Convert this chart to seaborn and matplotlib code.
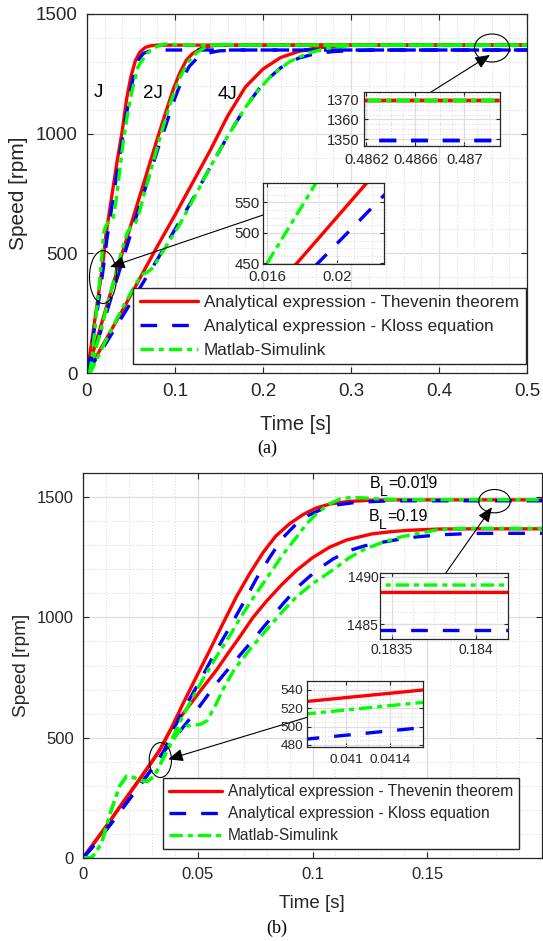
import matplotlib
matplotlib.use("Agg")
import matplotlib.pyplot as plt
import seaborn as sns
import numpy as np
from matplotlib.lines import Line2D
from matplotlib.patches import Ellipse
from matplotlib.ticker import FixedLocator, MultipleLocator, FuncFormatter, AutoMinorLocator

# ------------------------------------------------------------------ data (a)
aJ_t_red = [0, 0.004, 0.008, 0.012, 0.0177, 0.0217, 0.028, 0.034, 0.040, 0.045, 0.050, 0.055, 0.060, 0.066, 0.072, 0.080, 0.09, 0.5]
aJ_v_red = [0, 95, 200, 300, 450, 582, 735, 880, 1010, 1145, 1240, 1305, 1340, 1360, 1367, 1370, 1370, 1370]
aJ_t_blue = [0, 0.004, 0.008, 0.012, 0.016, 0.0189, 0.0227, 0.028, 0.033, 0.038, 0.044, 0.049, 0.054, 0.059, 0.064, 0.070, 0.078, 0.09, 0.5]
aJ_v_blue = [0, 80, 175, 270, 370, 450, 562, 690, 810, 925, 1065, 1170, 1260, 1312, 1335, 1344, 1348, 1349.5, 1349.5]
aJ_t_green = [0, 0.003, 0.006, 0.009, 0.012, 0.016, 0.0188, 0.021, 0.024, 0.027, 0.030, 0.033, 0.037, 0.041, 0.046, 0.051, 0.058, 0.068, 0.078, 0.088, 0.10, 0.12, 0.5]
aJ_v_green = [0, 5, 70, 190, 300, 450, 582, 612, 628, 635, 650, 720, 840, 960, 1080, 1175, 1280, 1335, 1362, 1375, 1372, 1370, 1370]

a2J_t_red = [0, 0.01, 0.02, 0.03, 0.04, 0.05, 0.06, 0.07, 0.08, 0.09, 0.098, 0.105, 0.113, 0.12, 0.13, 0.14, 0.15, 0.5]
a2J_v_red = [0, 125, 250, 375, 500, 620, 740, 860, 980, 1095, 1185, 1250, 1308, 1335, 1357, 1366, 1370, 1370]
a2J_t_blue = [0, 0.01, 0.02, 0.03, 0.04, 0.05, 0.06, 0.07, 0.08, 0.09, 0.10, 0.108, 0.116, 0.125, 0.135, 0.15, 0.17, 0.5]
a2J_v_blue = [0, 110, 225, 345, 465, 585, 700, 815, 930, 1040, 1150, 1225, 1280, 1315, 1335, 1346, 1349.5, 1349.5]
a2J_t_green = [0, 0.004, 0.01, 0.02, 0.03, 0.04, 0.046, 0.05, 0.054, 0.058, 0.065, 0.075, 0.085, 0.095, 0.105, 0.115, 0.125, 0.135, 0.145, 0.16, 0.18, 0.5]
a2J_v_green = [0, 5, 100, 240, 380, 520, 590, 610, 620, 650, 750, 880, 1010, 1130, 1230, 1300, 1340, 1362, 1372, 1372, 1370, 1370]

a4J_t_red = [0, 0.02, 0.04, 0.06, 0.08, 0.10, 0.12, 0.14, 0.16, 0.18, 0.20, 0.22, 0.24, 0.26, 0.28, 0.30, 0.32, 0.5]
a4J_v_red = [0, 130, 260, 395, 530, 660, 795, 930, 1075, 1195, 1270, 1318, 1343, 1358, 1365, 1369, 1370, 1370]
a4J_t_blue = [0, 0.02, 0.04, 0.06, 0.08, 0.10, 0.12, 0.14, 0.16, 0.18, 0.20, 0.22, 0.24, 0.26, 0.28, 0.30, 0.33, 0.5]
a4J_v_blue = [0, 115, 235, 355, 475, 600, 725, 860, 990, 1110, 1210, 1275, 1315, 1335, 1343, 1347, 1349.5, 1349.5]
a4J_t_green = [0, 0.005, 0.02, 0.04, 0.055, 0.062, 0.068, 0.075, 0.09, 0.106, 0.12, 0.14, 0.16, 0.18, 0.195, 0.21, 0.23, 0.25, 0.27, 0.295, 0.33, 0.5]
a4J_v_green = [0, 10, 125, 270, 370, 410, 420, 440, 530, 625, 720, 860, 990, 1110, 1183, 1245, 1300, 1335, 1355, 1368, 1370, 1370]

# ------------------------------------------------------------------ data (b)
b_t_red_hi = [0, 0.005, 0.01, 0.015, 0.02, 0.025, 0.03, 0.0334, 0.038, 0.0436, 0.0495, 0.0552, 0.061, 0.0668, 0.0725, 0.0785, 0.084, 0.09, 0.096, 0.1017, 0.108, 0.116, 0.125, 0.135, 0.2]
b_v_red_hi = [0, 65, 130, 198, 265, 332, 400, 448, 530, 642, 755, 863, 975, 1085, 1180, 1270, 1338, 1389, 1428, 1455, 1472, 1482, 1486.5, 1488.2, 1488.4]
b_t_red_lo = [0, 0.005, 0.01, 0.015, 0.02, 0.025, 0.03, 0.0334, 0.038, 0.043, 0.048, 0.053, 0.0581, 0.063, 0.068, 0.0741, 0.08, 0.0865, 0.093, 0.1, 0.1075, 0.115, 0.126, 0.134, 0.142, 0.155, 0.17, 0.2]
b_v_red_lo = [0, 65, 130, 198, 265, 332, 400, 448, 530, 592, 655, 718, 780, 848, 915, 1000, 1068, 1135, 1195, 1248, 1292, 1322, 1347, 1356, 1362, 1367, 1368, 1368]

b_t_blue_hi = [0, 0.005, 0.01, 0.015, 0.02, 0.025, 0.03, 0.035, 0.04, 0.0436, 0.05, 0.0581, 0.064, 0.0697, 0.0755, 0.0814, 0.087, 0.093, 0.0985, 0.1046, 0.111, 0.119, 0.13, 0.14, 0.2]
b_v_blue_hi = [0, 55, 115, 178, 242, 305, 370, 440, 545, 614, 720, 863, 960, 1057, 1160, 1250, 1330, 1389, 1425, 1452, 1468, 1478, 1483, 1484.4, 1484.4]
b_t_blue_lo = [0, 0.005, 0.01, 0.015, 0.02, 0.025, 0.03, 0.035, 0.04, 0.045, 0.05, 0.0581, 0.065, 0.0727, 0.08, 0.0872, 0.094, 0.1017, 0.109, 0.1162, 0.123, 0.131, 0.138, 0.145, 0.155, 0.17, 0.2]
b_v_blue_lo = [0, 55, 115, 178, 242, 305, 370, 440, 500, 560, 620, 725, 805, 891, 975, 1057, 1130, 1195, 1243, 1278, 1298, 1313, 1325, 1334, 1343, 1349, 1349.5]

b_t_green_hi = [0, 0.004, 0.008, 0.012, 0.016, 0.019, 0.022, 0.025, 0.028, 0.031, 0.034, 0.038, 0.043, 0.048, 0.053, 0.0581, 0.064, 0.0697, 0.0755, 0.0814, 0.087, 0.093, 0.0975, 0.1017, 0.107, 0.112, 0.117, 0.123, 0.13, 0.14, 0.2]
b_v_green_hi = [0, 3, 60, 190, 300, 340, 335, 322, 318, 340, 395, 480, 580, 670, 755, 836, 925, 1016, 1100, 1181, 1260, 1333, 1390, 1430, 1470, 1492, 1499, 1496, 1491, 1489.2, 1489.1]
b_t_green_lo = [0, 0.004, 0.008, 0.012, 0.016, 0.019, 0.022, 0.025, 0.028, 0.031, 0.034, 0.038, 0.042, 0.045, 0.048, 0.051, 0.054, 0.058, 0.061, 0.066, 0.073, 0.081, 0.087, 0.093, 0.1, 0.105, 0.11, 0.116, 0.123, 0.131, 0.138, 0.145, 0.154, 0.165, 0.2]
b_v_green_lo = [0, 3, 60, 190, 300, 340, 335, 322, 318, 340, 395, 470, 530, 548, 552, 555, 570, 640, 700, 785, 870, 960, 1025, 1085, 1140, 1172, 1205, 1248, 1285, 1313, 1333, 1347, 1363, 1370, 1370]

# zoomed detail shown in the lower-middle inset of (b)
b_zoom_t = [0.0406, 0.0417]
b_zoom_red = [527, 540]
b_zoom_green = [513.5, 526.5]
b_zoom_blue = [486, 499]

legend_labels = ["Analytical expression - Thevenin theorem",
                 "Analytical expression - Kloss equation",
                 "Matlab-Simulink"]

a_xticks = [0, 0.1, 0.2, 0.3, 0.4, 0.5]
a_yticks = [0, 500, 1000, 1500]
b_xticks = [0, 0.05, 0.1, 0.15]
b_yticks = [0, 500, 1000, 1500]

# ------------------------------------------------------------------ style
sns.set_theme(style="white")
plt.rcParams['font.family'] = ['Liberation Sans', 'DejaVu Sans']

TXT = '#262626'
RED, BLUE, GREEN = '#ff0000', '#0000ff', '#00ff00'
LW = 2.4
STYLE = {
    'red': dict(color=RED, linewidth=LW, linestyle='-'),
    'blue': dict(color=BLUE, linewidth=LW, linestyle=(0, (5, 4.5))),
    'green': dict(color=GREEN, linewidth=LW, linestyle=(0, (4, 1.5, 1.5, 1.5))),
}

W, H = 543, 941
fig = plt.figure(figsize=(W / 100, H / 100), dpi=100)
fig.patch.set_facecolor('white')


def rect(x0, y0, x1, y1):
    return [x0 / W, 1 - y1 / H, (x1 - x0) / W, (y1 - y0) / H]


fmt = FuncFormatter(lambda v, p: f'{v:g}')


def style_axes(ax, fs, padx, pady, xminor, yminor, ticklen=4.0):
    for s in ax.spines.values():
        s.set_visible(True)
        s.set_color(TXT)
        s.set_linewidth(0.9)
    ax.set_facecolor('white')
    ax.tick_params(axis='both', which='major', direction='in', length=ticklen, width=0.8,
                   color=TXT, top=True, right=True, bottom=True, left=True,
                   labelsize=fs, labelcolor=TXT)
    ax.tick_params(axis='x', which='major', pad=padx)
    ax.tick_params(axis='y', which='major', pad=pady)
    ax.tick_params(which='minor', length=0)
    ax.xaxis.set_minor_locator(xminor)
    ax.yaxis.set_minor_locator(yminor)
    ax.grid(True, which='major', color='#dedede', lw=0.9, ls='-')
    ax.grid(True, which='minor', color='#c8c8c8', lw=0.6, ls=(0, (1, 2.5)))
    ax.set_axisbelow(True)
    ax.xaxis.set_major_formatter(fmt)
    ax.yaxis.set_major_formatter(fmt)


def draw(ax, t, v, kind):
    sns.lineplot(x=np.asarray(t, float), y=np.asarray(v, float), ax=ax, sort=False,
                 estimator=None, errorbar=None, **STYLE[kind])


def draw_a(ax):
    for t, v in [(aJ_t_red, aJ_v_red), (a2J_t_red, a2J_v_red), (a4J_t_red, a4J_v_red)]:
        draw(ax, t, v, 'red')
    for t, v in [(aJ_t_blue, aJ_v_blue), (a2J_t_blue, a2J_v_blue), (a4J_t_blue, a4J_v_blue)]:
        draw(ax, t, v, 'blue')
    for t, v in [(aJ_t_green, aJ_v_green), (a2J_t_green, a2J_v_green), (a4J_t_green, a4J_v_green)]:
        draw(ax, t, v, 'green')


def draw_b(ax):
    for t, v in [(b_t_red_hi, b_v_red_hi), (b_t_red_lo, b_v_red_lo)]:
        draw(ax, t, v, 'red')
    for t, v in [(b_t_blue_hi, b_v_blue_hi), (b_t_blue_lo, b_v_blue_lo)]:
        draw(ax, t, v, 'blue')
    for t, v in [(b_t_green_hi, b_v_green_hi), (b_t_green_lo, b_v_green_lo)]:
        draw(ax, t, v, 'green')


def draw_b_zoom(ax):
    draw(ax, b_zoom_t, b_zoom_red, 'red')
    draw(ax, b_zoom_t, b_zoom_blue, 'blue')
    draw(ax, b_zoom_t, b_zoom_green, 'green')


def add_legend(ax, x_px, y_px, fs, spacing):
    handles = [Line2D([0], [0], **STYLE[k]) for k in ('red', 'blue', 'green')]
    leg = ax.legend(handles, legend_labels, loc='upper left',
                    bbox_to_anchor=(x_px / W, 1 - y_px / H), bbox_transform=fig.transFigure,
                    fontsize=fs, handlelength=3.4, handletextpad=0.35, borderpad=0.4,
                    labelspacing=spacing, borderaxespad=0, frameon=True, fancybox=False,
                    edgecolor=TXT, framealpha=1, facecolor='white')
    leg.get_frame().set_linewidth(1.0)
    for t in leg.get_texts():
        t.set_color(TXT)
    return leg


def make_inset(r, xlim, ylim, xticks, yticks, fs, padx, pady, drawer):
    iax = fig.add_axes(r)
    drawer(iax)
    iax.set_xlim(*xlim)
    iax.set_ylim(*ylim)
    iax.xaxis.set_major_locator(FixedLocator(xticks))
    iax.yaxis.set_major_locator(FixedLocator(yticks))
    style_axes(iax, fs, padx, pady, AutoMinorLocator(4), AutoMinorLocator(4), ticklen=3)
    iax.set_xlabel('')
    iax.set_ylabel('')
    return iax


def arrow(ax, start, tip):
    ax.annotate('', xy=tip, xytext=start, xycoords='data', textcoords='data',
                arrowprops=dict(arrowstyle='-|>,head_length=0.9,head_width=0.38',
                                mutation_scale=10, color='black', fc='black', lw=0.8,
                                shrinkA=0, shrinkB=0))


def ellipse(ax, c, w, h):
    ax.add_patch(Ellipse(c, w, h, fill=False, edgecolor='black', lw=0.8, zorder=5))


def bl_label(ax, t, v, value):
    # "B" with a large, low subscript "L", as drawn in the original
    ax.annotate('B', xy=(t, v), xytext=(0, 0), textcoords='offset points',
                fontsize=11.5, color='black', ha='left', va='baseline')
    ax.annotate('L', xy=(t, v), xytext=(7.2, -5.8), textcoords='offset points',
                fontsize=10, color='black', ha='left', va='baseline')
    ax.annotate('=' + value, xy=(t, v), xytext=(13.2, 0), textcoords='offset points',
                fontsize=11.5, color='black', ha='left', va='baseline')


# ------------------------------------------------------------------ panel (a)
ax_a = fig.add_axes(rect(87, 14, 527, 373))
draw_a(ax_a)
ax_a.set_xlim(0, 0.5)
ax_a.set_ylim(0, 1500)
ax_a.xaxis.set_major_locator(FixedLocator(a_xticks))
ax_a.yaxis.set_major_locator(FixedLocator(a_yticks))
style_axes(ax_a, 13.5, 7, 6.5, MultipleLocator(0.02), MultipleLocator(100))
ax_a.set_xlabel('Time [s]', fontsize=14.5, color=TXT)
ax_a.set_ylabel('Speed [rpm]', fontsize=15, color=TXT)
ax_a.xaxis.set_label_coords((296 - 87) / 440, (373 - 424) / 359)
ax_a.xaxis.label.set_va('center')
ax_a.yaxis.set_label_coords((19 - 87) / 440, 0.5)
ax_a.yaxis.label.set_va('center')

for s, tt, vv in [('J', 0.0072, 1153), ('2J', 0.064, 1148), ('4J', 0.149, 1144)]:
    ax_a.text(tt, vv, s, fontsize=13.5, color='black', ha='left', va='baseline')

add_legend(ax_a, 133, 288, 12.3, 0.52)

ellipse(ax_a, (0.4602, 1358), 0.0398, 117)
ellipse(ax_a, (0.0182, 401), 0.0307, 221)
arrow(ax_a, (0.3875, 1166), (0.458, 1329))
arrow(ax_a, (0.200, 660), (0.0261, 443))

make_inset(rect(364, 92, 500, 146), (0.48618, 0.48729), (1346.5, 1374),
           [0.4862, 0.4866, 0.487], [1350, 1360, 1370], 10.5, 5, 3, draw_a)
make_inset(rect(263, 183, 384, 264), (0.01577, 0.02269), (449, 582),
           [0.016, 0.02], [450, 500, 550], 10.8, 4.3, 2.2, draw_a)

# ------------------------------------------------------------------ panel (b)
ax_b = fig.add_axes(rect(83, 473, 542, 858))
draw_b(ax_b)
ax_b.set_xlim(0, 0.2)
ax_b.set_ylim(0, 1600)
ax_b.xaxis.set_major_locator(FixedLocator(b_xticks))
ax_b.yaxis.set_major_locator(FixedLocator(b_yticks))
style_axes(ax_b, 12, 6.8, 6.5, MultipleLocator(0.01), MultipleLocator(100))
ax_b.set_xlabel('Time [s]', fontsize=13.5, color=TXT)
ax_b.set_ylabel('Speed [rpm]', fontsize=13.7, color=TXT)
ax_b.xaxis.set_label_coords((312 - 83) / 459, (858 - 903) / 385)
ax_b.xaxis.label.set_va('center')
ax_b.yaxis.set_label_coords((21 - 83) / 459, 0.5)
ax_b.yaxis.label.set_va('center')

bl_label(ax_b, 0.1251, 1538, '0.019')
bl_label(ax_b, 0.1247, 1402, '0.19')

add_legend(ax_b, 163, 778, 11.2, 0.45)

ellipse(ax_b, (0.1793, 1483), 0.0138, 97)
ellipse(ax_b, (0.0337, 407), 0.0097, 145)
arrow(ax_b, (0.1568, 1167), (0.1782, 1458))
arrow(ax_b, (0.0981, 586), (0.0371, 410))

make_inset(rect(380, 573, 508, 639), (0.18343, 0.18419), (1483.46, 1490.39),
           [0.1835, 0.184], [1485, 1490], 10.0, 3.2, 1.2, draw_b)
make_inset(rect(307, 681, 423, 747), (0.04064, 0.0417), (477.8, 549.8),
           [0.041, 0.0414], [480, 500, 520, 540], 9.7, 4.9, 2.9, draw_b_zoom)

fig.text(267 / W, 1 - 448 / H, '(a)', ha='center', va='center', fontsize=13,
         family=['Liberation Serif', 'DejaVu Serif'], color='black')
fig.text(277 / W, 1 - 928 / H, '(b)', ha='center', va='center', fontsize=13,
         family=['Liberation Serif', 'DejaVu Serif'], color='black')

fig.savefig('out.png', dpi=100, facecolor='white')
